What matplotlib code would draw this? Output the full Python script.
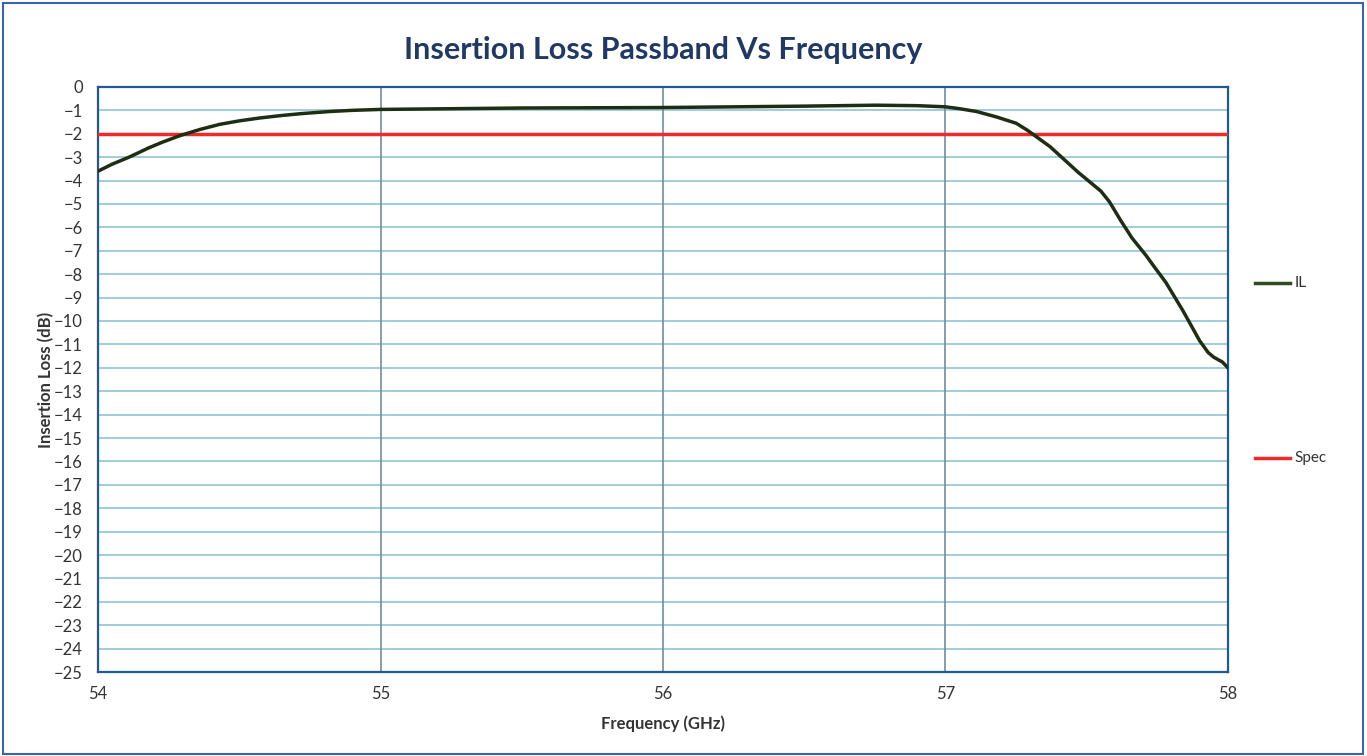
import matplotlib.pyplot as plt
import numpy as np
from matplotlib.lines import Line2D
from matplotlib.patches import Rectangle

plt.rcParams['font.family'] = ['Lato', 'DejaVu Sans']

freq_ghz = [54.0, 54.05, 54.11, 54.18, 54.23, 54.29, 54.36, 54.43, 54.5, 54.57, 54.65,
            54.72, 54.82, 54.9, 55.0, 55.5, 56.0, 56.5, 56.75, 56.9, 57.0, 57.05,
            57.11, 57.18, 57.25, 57.29, 57.33, 57.37, 57.42, 57.47, 57.55, 57.58,
            57.62, 57.66, 57.71, 57.74, 57.78, 57.84, 57.87, 57.90, 57.93, 57.95,
            57.98, 58.0]
il_db = [-3.6, -3.3, -3.0, -2.6, -2.35, -2.08, -1.82, -1.6, -1.45, -1.33, -1.22,
         -1.14, -1.05, -1.0, -0.96, -0.9, -0.88, -0.82, -0.78, -0.8, -0.85, -0.93,
         -1.05, -1.28, -1.55, -1.85, -2.2, -2.55, -3.1, -3.65, -4.45, -4.9,
         -5.7, -6.45, -7.2, -7.7, -8.35, -9.55, -10.2, -10.85, -11.35, -11.55,
         -11.75, -12.0]
spec_freq = [54.0, 58.0]
spec_db = [-2.0, -2.0]

y_ticks = list(range(0, -26, -1))
x_ticks = [54, 55, 56, 57, 58]

fig = plt.figure(figsize=(13.67, 7.56), dpi=100)
ax = fig.add_axes([0.0717, 0.111, 0.8266, 0.774])

navy = '#1f3864'
txt = '#333333'

# gridlines: light blue horizontal, greyer vertical
for yv in y_ticks[1:-1]:
    ax.axhline(yv, color='#8fc3d6', linewidth=1.2, zorder=1)
for xv in x_ticks[1:-1]:
    ax.axvline(xv, color='#6d8ea3', linewidth=1.2, zorder=1)

ax.plot(spec_freq, spec_db, color='#ee2a2a', linewidth=2.5, zorder=3)
ax.plot(freq_ghz, il_db, color='#1e2e12', linewidth=2.5, zorder=4,
        solid_joinstyle='round')

ax.set_xlim(54, 58)
ax.set_ylim(-25, 0)
ax.set_xticks(x_ticks)
ax.set_yticks(y_ticks)
ax.tick_params(axis='both', length=0, labelsize=12, colors=txt)
ax.tick_params(axis='x', pad=10)
ax.tick_params(axis='y', pad=11)

for s in ax.spines.values():
    s.set_color('#1f5a96')
    s.set_linewidth(1.6)

ax.set_xlabel('Frequency (GHz)', fontsize=12, fontweight='bold', color=txt, labelpad=10)
ax.set_ylabel('Insertion Loss (dB)', fontsize=12, fontweight='bold', color=txt, labelpad=0)
ax.set_title('Insertion Loss Passband Vs Frequency', fontsize=22, fontweight='bold',
             color=navy, pad=20)

# legend entries placed separately on the right
fig.add_artist(Line2D([0.918, 0.944], [1 - 283 / 756] * 2, color='#2f4a1e', linewidth=2.5))
fig.text(0.947, 1 - 283 / 756, 'IL', fontsize=11, color=txt, va='center')
fig.add_artist(Line2D([0.918, 0.944], [1 - 458 / 756] * 2, color='#ee2a2a', linewidth=2.5))
fig.text(0.947, 1 - 458 / 756, 'Spec', fontsize=11, color=txt, va='center')

# outer border of the chart
fig.add_artist(Rectangle((0.002, 0.003), 0.995, 0.993, transform=fig.transFigure,
                         fill=False, edgecolor='#3a63b0', linewidth=1.5))

fig.savefig('out.png', dpi=100)
